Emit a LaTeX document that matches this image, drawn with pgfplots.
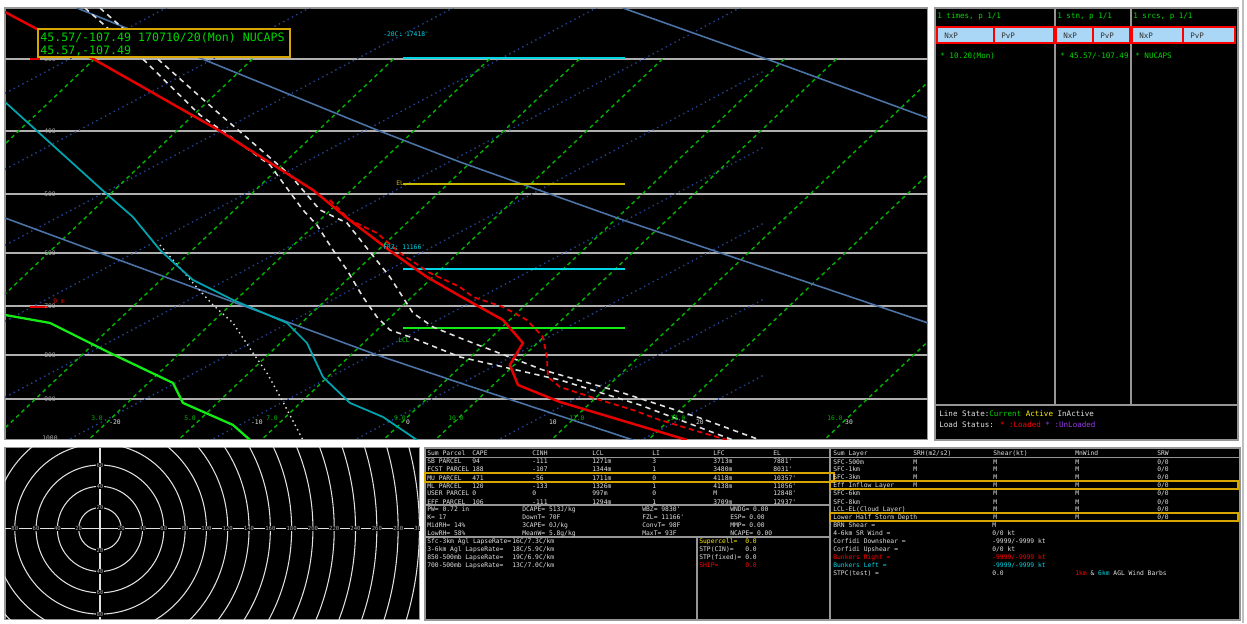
\documentclass[border=0pt]{standalone}
\usepackage{fontspec}
\usepackage{pgfplots}
\pgfplotsset{compat=1.18}
\newfontfamily\mono{DejaVu Sans Mono}
\definecolor{isob}{RGB}{175,175,175}
\definecolor{isot}{RGB}{35,65,145}
\definecolor{mixr}{RGB}{0,180,0}
\definecolor{dadb}{RGB}{75,115,165}
\definecolor{tcol}{RGB}{230,0,0}
\definecolor{tealc}{RGB}{0,165,175}
\definecolor{dewp}{RGB}{20,235,20}
\definecolor{cyanb}{RGB}{0,215,230}
\definecolor{yelb}{RGB}{200,185,0}
\definecolor{boxy}{RGB}{215,165,0}
\definecolor{txtg}{RGB}{0,215,0}
\definecolor{btn}{RGB}{170,215,245}
\definecolor{pnl}{RGB}{150,150,150}
\definecolor{purp}{RGB}{150,60,230}
\definecolor{wht}{RGB}{225,225,225}
\definecolor{lbl}{RGB}{170,170,170}
\newcommand\tb{\mono\fontsize{3.6}{4}\selectfont}
\newcommand\tm{\mono\fontsize{4.3}{5}\selectfont}

\begin{document}
\begin{tikzpicture}[x=0.02cm,y=-0.02cm]
\fill[white] (0,0) rectangle (1247,623);

% ---------------- skew-T ----------------
\begin{axis}[at={(0.1cm,-0.16cm)}, anchor=north west,
  scale only axis, width=18.46cm, height=8.64cm,
  xmin=5, xmax=928, ymin=8, ymax=440, y dir=reverse,
  xtick=\empty, ytick=\empty,
  axis background/.style={fill=black},
  axis line style={pnl, line width=0.6pt}]

% isobars
\addplot[isob, line width=0.9pt] coordinates {(5,59) (928,59)};
\addplot[isob, line width=0.9pt] coordinates {(5,131) (928,131)};
\addplot[isob, line width=0.9pt] coordinates {(5,194) (928,194)};
\addplot[isob, line width=0.9pt] coordinates {(5,253) (928,253)};
\addplot[isob, line width=0.9pt] coordinates {(5,306) (928,306)};
\addplot[isob, line width=0.9pt] coordinates {(5,355) (928,355)};
\addplot[isob, line width=0.9pt] coordinates {(5,399) (928,399)};

% isotherms (dotted)
\addplot[isot, line width=0.8pt, dotted] coordinates {(5,93.35) (765,-309.45)};
\addplot[isot, line width=0.8pt, dotted] coordinates {(5,169.35) (765,-233.45)};
\addplot[isot, line width=0.8pt, dotted] coordinates {(5,245.35) (765,-157.45)};
\addplot[isot, line width=0.8pt, dotted] coordinates {(5,321.35) (765,-81.45)};
\addplot[isot, line width=0.8pt, dotted] coordinates {(5,397.35) (765,-5.45)};
\addplot[isot, line width=0.8pt, dotted] coordinates {(5,473.35) (765,70.55)};
\addplot[isot, line width=0.8pt, dotted] coordinates {(5,549.35) (765,146.55)};
\addplot[isot, line width=0.8pt, dotted] coordinates {(5,625.35) (765,222.55)};
\addplot[isot, line width=0.8pt, dotted] coordinates {(5,701.35) (765,298.55)};
\addplot[isot, line width=0.8pt, dotted] coordinates {(5,777.35) (765,374.55)};

% mixing ratio lines (dashed)
\pgfplotsset{mr/.style={mixr, line width=0.8pt, dash pattern=on 2.2pt off 2pt}}
\addplot[mr] coordinates {(94.5,59) (-306.6,440)};
\addplot[mr] coordinates {(252.5,59) (-148.6,440)};
\addplot[mr] coordinates {(393.5,59) (-7.6,440)};
\addplot[mr] coordinates {(489.5,59) (88.4,440)};
\addplot[mr] coordinates {(579.5,59) (178.4,440)};
\addplot[mr] coordinates {(662.5,59) (261.4,440)};
\addplot[mr] coordinates {(784.5,59) (383.4,440)};
\addplot[mr] coordinates {(836.5,59) (435.4,440)};
\addplot[mr] coordinates {(952.5,59) (551.4,440)};
\addplot[mr] coordinates {(1049.5,59) (648.4,440)};
\addplot[mr] coordinates {(1225.5,59) (824.4,440)};

% dry adiabats
\addplot[dadb, line width=0.9pt] coordinates {(623,8) (775,62) (928,118)};
\addplot[dadb, line width=0.9pt] coordinates {(77,8) (200,58) (377,130) (460,162) (623,220) (928,323)};
\addplot[dadb, line width=0.9pt] coordinates {(5,218) (377,355) (460,383) (633,440)};

% level bars
\addplot[cyanb, line width=1.1pt] coordinates {(403,58) (625,58)};
\addplot[yelb, line width=1.6pt] coordinates {(403,184) (625,184)};
\addplot[cyanb, line width=1.1pt] coordinates {(403,269) (625,269)};
\addplot[dewp, line width=1.1pt] coordinates {(403,328) (625,328)};

% white dotted trace
\addplot[wht, line width=0.8pt, dotted] coordinates {(160,245) (193,283) (213,305) (233,323) (253,353) (267,373) (283,402) (303,440)};

% parcel traces (white dashed)
\addplot[wht, line width=0.9pt, dash pattern=on 3pt off 2.5pt] coordinates {(100,8) (160,61) (215,110) (290,175) (320,210) (347,223) (370,252) (390,277) (413,313) (433,327) (460,338) (543,370) (620,392) (700,418) (760,440)};
\addplot[wht, line width=0.9pt, dash pattern=on 3pt off 2.5pt] coordinates {(85,8) (145,61) (200,115) (270,165) (303,210) (317,225) (333,250) (347,270) (363,297) (377,317) (390,330) (410,337) (460,357) (560,380) (640,405) (733,440)};

% teal profile
\addplot[tealc, line width=1pt] coordinates {(5,102) (110,197) (133,217) (160,250) (173,262) (193,280) (233,300) (287,323) (307,343) (323,377) (350,403) (383,417) (417,440)};

% dewpoint
\addplot[dewp, line width=1.3pt] coordinates {(5,315) (50,323) (110,353) (173,383) (183,403) (233,425) (250,440)};

% virtual temperature (red dashed)
\addplot[tcol, line width=1pt, dash pattern=on 3pt off 2pt] coordinates {(330,200) (350,220) (377,233) (400,253) (430,273) (460,287) (473,297) (503,307) (527,320) (543,337) (547,357) (548,377) (560,387) (600,400) (633,410) (660,420) (693,430) (727,440)};

% temperature
\addplot[tcol, line width=1.4pt] coordinates {(5,12) (97,61) (220,131) (313,190) (347,218) (393,253) (427,277) (460,296) (503,320) (523,343) (510,365) (518,385) (560,402) (687,440)};

% height marks
\addplot[tcol, line width=0.8pt] coordinates {(30,59) (40,59)};
\addplot[tcol, line width=0.8pt] coordinates {(30,307) (48,307)};
\node[anchor=west, text=tcol, font=\tb, inner sep=0pt] at (53,301) {0 m};

% isobar labels
\node[text=lbl, font=\tb] at (50,59) {300};
\node[text=lbl, font=\tb] at (50,131) {400};
\node[text=lbl, font=\tb] at (50,194) {500};
\node[text=lbl, font=\tb] at (50,253) {600};
\node[text=lbl, font=\tb] at (50,306) {700};
\node[text=lbl, font=\tb] at (50,355) {800};
\node[text=lbl, font=\tb] at (50,399) {900};
\node[text=lbl, font=\tb] at (50,438) {1000};

% mixing ratio labels
\node[text=mixr, font=\tb] at (97,418) {3.0};
\node[text=mixr, font=\tb] at (190,418) {5.0};
\node[text=mixr, font=\tb, anchor=west, inner sep=0pt] at (266,418) {7.0};
\node[text=mixr, font=\tb] at (400,418) {9.0};
\node[text=mixr, font=\tb] at (456,418) {10.0};
\node[text=mixr, font=\tb] at (577,418) {12.0};
\node[text=mixr, font=\tb] at (678,418) {14.0};
\node[text=mixr, font=\tb, anchor=east, inner sep=0pt] at (843,418) {16.0};

% isotherm labels
\node[text=wht, font=\tb] at (115,422) {-20};
\node[text=wht, font=\tb, anchor=east, inner sep=0pt] at (263,422) {-10};
\node[text=wht, font=\tb] at (408,422) {0};
\node[text=wht, font=\tb] at (553,422) {10};
\node[text=wht, font=\tb] at (700,422) {20};
\node[text=wht, font=\tb, anchor=west, inner sep=0pt] at (845,422) {30};

% level labels
\node[anchor=west, text=cyanb, font=\tb, inner sep=0pt] at (383,34) {-20C: 17418'};
\node[anchor=west, text=yelb, font=\tb, inner sep=0pt] at (396,183) {EL};
\node[anchor=west, text=cyanb, font=\tb, inner sep=0pt] at (383,247) {FRZ: 11166'};
\node[anchor=west, text=dewp, font=\tb, inner sep=0pt] at (398,340) {LCL};

% station box
\draw[boxy, line width=0.8pt, fill=black] (38,29) rectangle (290,57);
\node[anchor=base west, text=txtg, font=\mono\fontsize{6.6}{7}\selectfont, inner sep=0pt] at (40,41.5) {45.57/-107.49 170710/20(Mon) NUCAPS};
\node[anchor=base west, text=txtg, font=\mono\fontsize{6.6}{7}\selectfont, inner sep=0pt] at (40,54) {45.57,-107.49};
\end{axis}

% ---------------- hodograph ----------------
\begin{axis}[at={(0.1cm,-8.96cm)}, anchor=north west,
  scale only axis, width=8.3cm, height=3.44cm,
  xmin=5, xmax=420, ymin=448, ymax=620, y dir=reverse,
  xtick=\empty, ytick=\empty,
  axis background/.style={fill=black},
  axis line style={pnl, line width=0.6pt}]
\pgfplotsinvokeforeach{1,...,15}{
  \draw[wht, line width=0.6pt] (axis cs:100,529) circle[radius=#1*0.426cm];
}
\addplot[wht, line width=0.6pt] coordinates {(5,529) (420,529)};
\addplot[wht, line width=0.6pt] coordinates {(100,448) (100,620)};
\pgfplotsinvokeforeach{1,...,15}{
  \node[text=lbl, fill=black, inner sep=0.2pt, font=\mono\fontsize{3.2}{3.5}\selectfont] at (axis cs:{100+21.3*#1},529) {\pgfmathparse{int(20*#1)}\pgfmathresult};
}
\pgfplotsinvokeforeach{1,...,4}{
  \node[text=lbl, fill=black, inner sep=0.2pt, font=\mono\fontsize{3.2}{3.5}\selectfont] at (axis cs:{100-21.3*#1},529) {\pgfmathparse{int(20*#1)}\pgfmathresult};
  \node[text=lbl, fill=black, inner sep=0.2pt, font=\mono\fontsize{3.2}{3.5}\selectfont] at (axis cs:100,{529-21.3*#1}) {\pgfmathparse{int(20*#1)}\pgfmathresult};
  \node[text=lbl, fill=black, inner sep=0.2pt, font=\mono\fontsize{3.2}{3.5}\selectfont] at (axis cs:100,{529+21.3*#1}) {\pgfmathparse{int(20*#1)}\pgfmathresult};
}
\end{axis}

% ---------------- right panel ----------------
\fill[black] (935,8) rectangle (1238,440);
\draw[pnl, line width=0.6pt] (935,8) rectangle (1238,440);
\draw[pnl, line width=0.6pt] (1055,8) -- (1055,405) (1131,8) -- (1131,405) (935,405) -- (1238,405);
\node[anchor=base west, text=txtg, font=\tm, inner sep=0pt] at (937,18) {1 times, p 1/1};
\node[anchor=base west, text=txtg, font=\tm, inner sep=0pt] at (1057,18) {1 stn, p 1/1};
\node[anchor=base west, text=txtg, font=\tm, inner sep=0pt] at (1133,18) {1 srcs, p 1/1};
\fill[red] (936,26) rectangle (1236,44);
\foreach \a/\b/\t in {938/993/NxP,995/1053/PvP,1057/1092/NxP,1094/1129/PvP,1133/1182/NxP,1184/1234/PvP}{
  \fill[btn] (\a,28) rectangle (\b,42);
  \node[anchor=base west, text=black!80, font=\tm, inner sep=0pt] at (\a+6,38) {\t};
}
\node[anchor=base west, text=txtg, font=\tm, inner sep=0pt] at (940,58) {* 10.20(Mon)};
\node[anchor=base west, text=txtg, font=\tm, inner sep=0pt] at (1060,58) {* 45.57/-107.49};
\node[anchor=base west, text=txtg, font=\tm, inner sep=0pt] at (1135,58) {* NUCAPS};
\node[anchor=base west, font=\tm, inner sep=0pt] at (939,416) {\textcolor{wht}{Line State:}\textcolor{txtg}{Current} \textcolor{yellow}{Active} \textcolor{wht}{InActive}};
\node[anchor=base west, font=\tm, inner sep=0pt] at (939,427) {\textcolor{wht}{Load Status:} \textcolor{red}{* :Loaded} \textcolor{purp}{* :UnLoaded}};

% ---------------- bottom tables ----------------
\fill[black] (425,448) rectangle (1240,620);
\draw[pnl, line width=0.6pt] (425,448) rectangle (1240,620);
\draw[pnl, line width=0.6pt] (830,448) -- (830,620);
\draw[pnl, line width=0.5pt] (425,457) -- (1240,457);
\draw[pnl, line width=0.6pt] (425,505) -- (830,505) (425,537) -- (830,537) (697,537) -- (697,620);
\draw[boxy, line width=0.6pt] (425,473) rectangle (834,482);
\draw[boxy, line width=0.6pt] (830,481) rectangle (1238,489);
\draw[boxy, line width=0.6pt] (830,513) rectangle (1238,521);

% parcel table
\foreach \x/\t in {427/Sum Parcel,472/CAPE,532/CINH,592/LCL,652/LI,713/LFC,773/EL}
  \node[anchor=base west, text=wht, font=\tb, inner sep=0pt] at (\x,455) {\t};
\foreach \y/\a/\b/\c/\d/\e/\f/\g in {
  463/SB PARCEL/94/-111/1271m/3/3713m/7881',
  471/FCST PARCEL/188/-107/1344m/1/3480m/8031',
  480/MU PARCEL/471/-56/1711m/0/4118m/10357',
  488/ML PARCEL/120/-133/1326m/1/4138m/11056',
  495/USER PARCEL/0/0/997m/0/M/12848',
  504/EFF PARCEL/106/-111/1294m/1/3709m/12937'}{
  \node[anchor=base west, text=wht, font=\tb, inner sep=0pt] at (427,\y) {\a};
  \node[anchor=base west, text=wht, font=\tb, inner sep=0pt] at (472,\y) {\b};
  \node[anchor=base west, text=wht, font=\tb, inner sep=0pt] at (532,\y) {\c};
  \node[anchor=base west, text=wht, font=\tb, inner sep=0pt] at (592,\y) {\d};
  \node[anchor=base west, text=wht, font=\tb, inner sep=0pt] at (652,\y) {\e};
  \node[anchor=base west, text=wht, font=\tb, inner sep=0pt] at (713,\y) {\f};
  \node[anchor=base west, text=wht, font=\tb, inner sep=0pt] at (773,\y) {\g};
}
% indices
\foreach \y/\a/\b/\c/\d in {
  511/PW= 0.72 in/{DCAPE= 513J/kg}/WBZ= 9830'/WNDG= 0.00,
  519/K= 17/DownT= 70F/FZL= 11166'/ESP= 0.00,
  527/MidRH= 14\%/{3CAPE= 0J/kg}/ConvT= 98F/MMP= 0.00,
  535/LowRH= 58\%/{MeanW= 5.8g/kg}/MaxT= 93F/NCAPE= 0.00}{
  \node[anchor=base west, text=wht, font=\tb, inner sep=0pt] at (427,\y) {\a};
  \node[anchor=base west, text=wht, font=\tb, inner sep=0pt] at (522,\y) {\b};
  \node[anchor=base west, text=wht, font=\tb, inner sep=0pt] at (642,\y) {\c};
  \node[anchor=base west, text=wht, font=\tb, inner sep=0pt] at (730,\y) {\d};
}
% lapse rates
\foreach \y/\a/\b in {
  543/Sfc-3km Agl LapseRate=/{16C/7.3C/km},
  551/3-6km Agl LapseRate=/{18C/5.9C/km},
  559/850-500mb LapseRate=/{19C/6.9C/km},
  567/700-500mb LapseRate=/{13C/7.0C/km}}{
  \node[anchor=base west, text=wht, font=\tb, inner sep=0pt] at (427,\y) {\a};
  \node[anchor=base west, text=wht, font=\tb, inner sep=0pt] at (512,\y) {\b};
}
\foreach \y/\a/\c in {543/Supercell=/yellow,551/STP(CIN)=/wht,559/STP(fixed)=/wht,567/SHIP=/red}{
  \node[anchor=base west, text=\c, font=\tb, inner sep=0pt] at (699,\y) {\a};
  \node[anchor=base west, text=\c, font=\tb, inner sep=0pt] at (745,\y) {0.0};
}

% storm relative table
\foreach \x/\t in {833/Sum Layer,913/{SRH(m2/s2)},993/Shear(kt),1075/MnWind,1157/SRW}
  \node[anchor=base west, text=wht, font=\tb, inner sep=0pt] at (\x,455) {\t};
\foreach \y/\a/\b in {
  464/SFC-500m/M, 471/SFC-1km/M, 479/SFC-3km/M, 487/Eff Inflow Layer/M,
  495/SFC-6km/{}, 504/SFC-8km/{}, 511/LCL-EL(Cloud Layer)/{}, 519/Lower Half Storm Depth/{}}{
  \node[anchor=base west, text=wht, font=\tb, inner sep=0pt] at (833,\y) {\a};
  \node[anchor=base west, text=wht, font=\tb, inner sep=0pt] at (913,\y) {\b};
  \node[anchor=base west, text=wht, font=\tb, inner sep=0pt] at (993,\y) {M};
  \node[anchor=base west, text=wht, font=\tb, inner sep=0pt] at (1075,\y) {M};
  \node[anchor=base west, text=wht, font=\tb, inner sep=0pt] at (1157,\y) {0/0};
}
\foreach \y/\a/\b/\c in {
  527/BRN Shear =/M/wht,
  535/4-6km SR Wind =/{0/0 kt}/wht,
  543/Corfidi Downshear =/{-9999/-9999 kt}/wht,
  551/Corfidi Upshear =/{0/0 kt}/wht,
  559/Bunkers Right =/{-9999/-9999 kt}/red,
  567/Bunkers Left =/{-9999/-9999 kt}/cyanb,
  575/STPC(test) =/0.0/wht}{
  \node[anchor=base west, text=\c, font=\tb, inner sep=0pt] at (833,\y) {\a};
  \node[anchor=base west, text=\c, font=\tb, inner sep=0pt] at (992,\y) {\b};
}
\node[anchor=base west, font=\tb, inner sep=0pt] at (1075,575) {\textcolor{red}{1km} \textcolor{wht}{\&} \textcolor{cyanb}{6km} \textcolor{wht}{AGL Wind Barbs}};

\draw[black!25, line width=0.6pt] (1243,0) -- (1243,623);
\pgfresetboundingbox
\path (0,0) rectangle (1247,623);
\end{tikzpicture}
\end{document}
